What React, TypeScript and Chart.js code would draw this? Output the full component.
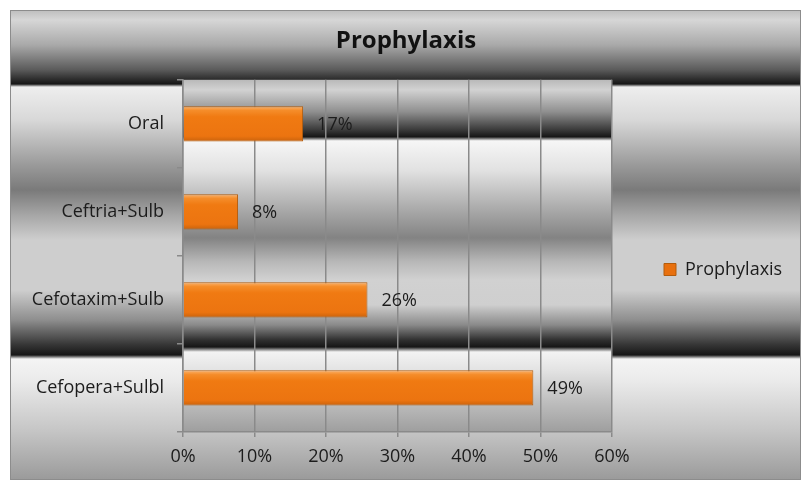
import React, { useEffect, useRef } from 'react';
import { Chart, registerables } from 'chart.js';

Chart.register(...registerables);

const chartTitle = 'Prophylaxis';
const seriesName = 'Prophylaxis';
const categories = ['Oral', 'Ceftria+Sulb', 'Cefotaxim+Sulb', 'Cefopera+Sulbl'];
const prophylaxisValues = [16.8, 7.7, 25.8, 49.0];
const axisMin = 0;
const axisMax = 60;
const axisStep = 10;

const FONT = "'Open Sans', 'DejaVu Sans', sans-serif";
const TEXT = '#1c1c1c';

// metallic band gradients: [absolute y in reference, colour]
const frameStops: [number, string][] = [
  [10, '#bdbdbd'], [20, '#d6d6d6'], [45, '#a9a9a9'], [70, '#5a5a5a'], [84, '#161616'],
  [87, '#eeeeee'], [120, '#d8d8d8'], [165, '#9a9a9a'], [190, '#7a7a7a'], [215, '#a6a6a6'],
  [240, '#cecece'], [290, '#cecece'], [320, '#8e8e8e'], [345, '#353535'], [355, '#171717'],
  [359, '#f4f4f4'], [380, '#ebebeb'], [430, '#c6c6c6'], [480, '#9a9a9a'],
];
const plotStops: [number, string][] = [
  [80, '#b9b9b9'], [90, '#d2d2d2'], [112, '#8f8f8f'], [130, '#3a3a3a'], [137, '#161616'],
  [141, '#f6f6f6'], [170, '#e2e2e2'], [205, '#b0b0b0'], [238, '#838383'], [262, '#b8b8b8'],
  [280, '#d1d1d1'], [305, '#cfcfcf'], [325, '#8a8a8a'], [340, '#303030'], [347, '#161616'],
  [352, '#f3f3f3'], [370, '#e3e3e3'], [400, '#c0c0c0'], [432, '#9e9e9e'],
];

function makeGradient(ctx: CanvasRenderingContext2D, top: number, bottom: number, stops: [number, string][], refTop: number, refBottom: number) {
  const g = ctx.createLinearGradient(0, top, 0, bottom);
  stops.forEach(([y, c]) => {
    const f = Math.min(1, Math.max(0, (y - refTop) / (refBottom - refTop)));
    g.addColorStop(f, c);
  });
  return g;
}

const backgroundPlugin = {
  id: 'metalBackground',
  beforeDraw(chart: any) {
    const ctx = chart.ctx as CanvasRenderingContext2D;
    const W = chart.width;
    const H = chart.height;
    ctx.save();
    ctx.fillStyle = '#ffffff';
    ctx.fillRect(0, 0, W, H);
    const fx = 10, fy = 10, fr = W - 6, fb = H - 7;
    ctx.fillStyle = makeGradient(ctx, fy, fb, frameStops, 10, 480);
    ctx.fillRect(fx, fy, fr - fx, fb - fy);
    ctx.strokeStyle = '#8c8c8c';
    ctx.lineWidth = 1;
    ctx.strokeRect(fx + 0.5, fy + 0.5, fr - fx - 1, fb - fy - 1);
    const a = chart.chartArea;
    ctx.fillStyle = makeGradient(ctx, a.top, a.bottom, plotStops, 80, 432);
    ctx.fillRect(a.left, a.top, a.right - a.left, a.bottom - a.top);
    ctx.restore();
  },
};

const barShadePlugin = {
  id: 'barShade',
  beforeDatasetsDraw(chart: any) {
    const ctx = chart.ctx as CanvasRenderingContext2D;
    const meta = chart.getDatasetMeta(0);
    meta.data.forEach((el: any) => {
      const top = el.y - el.height / 2;
      const g = ctx.createLinearGradient(0, top, 0, top + el.height);
      g.addColorStop(0, '#fbb36e');
      g.addColorStop(0.12, '#f58d2a');
      g.addColorStop(0.3, '#f07a12');
      g.addColorStop(0.85, '#ec7410');
      g.addColorStop(1, '#c9620c');
      el.options = Object.assign({}, el.options, { backgroundColor: g });
    });
  },
};

const valueLabelPlugin = {
  id: 'valueLabels',
  afterDatasetsDraw(chart: any) {
    const ctx = chart.ctx as CanvasRenderingContext2D;
    const meta = chart.getDatasetMeta(0);
    ctx.save();
    ctx.font = `18px ${FONT}`;
    ctx.fillStyle = TEXT;
    ctx.textAlign = 'left';
    ctx.textBaseline = 'middle';
    meta.data.forEach((el: any, i: number) => {
      ctx.fillText(Math.round(prophylaxisValues[i]) + '%', el.x + 14, el.y + 1);
    });
    ctx.restore();
  },
};

export default function App() {
  const ref = useRef<HTMLCanvasElement | null>(null);
  useEffect(() => {
    if (!ref.current) return;
    const chart = new Chart(ref.current, {
      type: 'bar',
      data: {
        labels: categories,
        datasets: [
          {
            label: seriesName,
            data: prophylaxisValues,
            backgroundColor: '#e8700e',
            borderColor: '#b35c0c',
            borderWidth: 1,
            barPercentage: 0.4,
            categoryPercentage: 1,
          },
        ],
      },
      options: {
        indexAxis: 'y',
        responsive: false,
        maintainAspectRatio: false,
        animation: false,
        layout: { padding: { left: 20, right: 15 } },
        plugins: {
          title: {
            display: true,
            text: chartTitle,
            color: '#111111',
            font: { family: FONT, size: 24, weight: 'bold' },
            padding: { top: 27, bottom: 24 },
          },
          legend: {
            position: 'right',
            maxWidth: 180,
            title: { display: true, text: ' ', font: { family: FONT, size: 10 }, padding: { top: 40, bottom: 0 } },
            labels: {
              color: TEXT,
              font: { family: FONT, size: 18 },
              boxWidth: 12,
              boxHeight: 12,
              padding: 52,
            },
          },
          tooltip: { enabled: false },
        },
        scales: {
          x: {
            min: axisMin,
            max: axisMax,
            ticks: {
              stepSize: axisStep,
              color: TEXT,
              font: { family: FONT, size: 18 },
              padding: 9,
              callback: (v: any) => v + '%',
            },
            grid: { color: '#8a8a8a', lineWidth: 1.5, tickLength: 5 },
            border: { color: '#8a8a8a', width: 1.5 },
            afterFit: (s: any) => {
              s.height = 55;
            },
          },
          y: {
            ticks: { color: TEXT, font: { family: FONT, size: 18 }, padding: 13 },
            grid: { drawOnChartArea: false, tickLength: 6, color: '#8a8a8a', lineWidth: 1.5, offset: true },
            border: { color: '#8a8a8a', width: 1.5 },
            afterFit: (s: any) => {
              s.width = 163;
            },
          },
        },
      },
      plugins: [backgroundPlugin, barShadePlugin, valueLabelPlugin],
    } as any);
    return () => chart.destroy();
  }, []);
  return (
    <div style={{ position: 'fixed', left: 0, top: 0, width: 807, height: 487 }}>
      <canvas ref={ref} width={807} height={487} style={{ display: 'block' }} />
    </div>
  );
}
